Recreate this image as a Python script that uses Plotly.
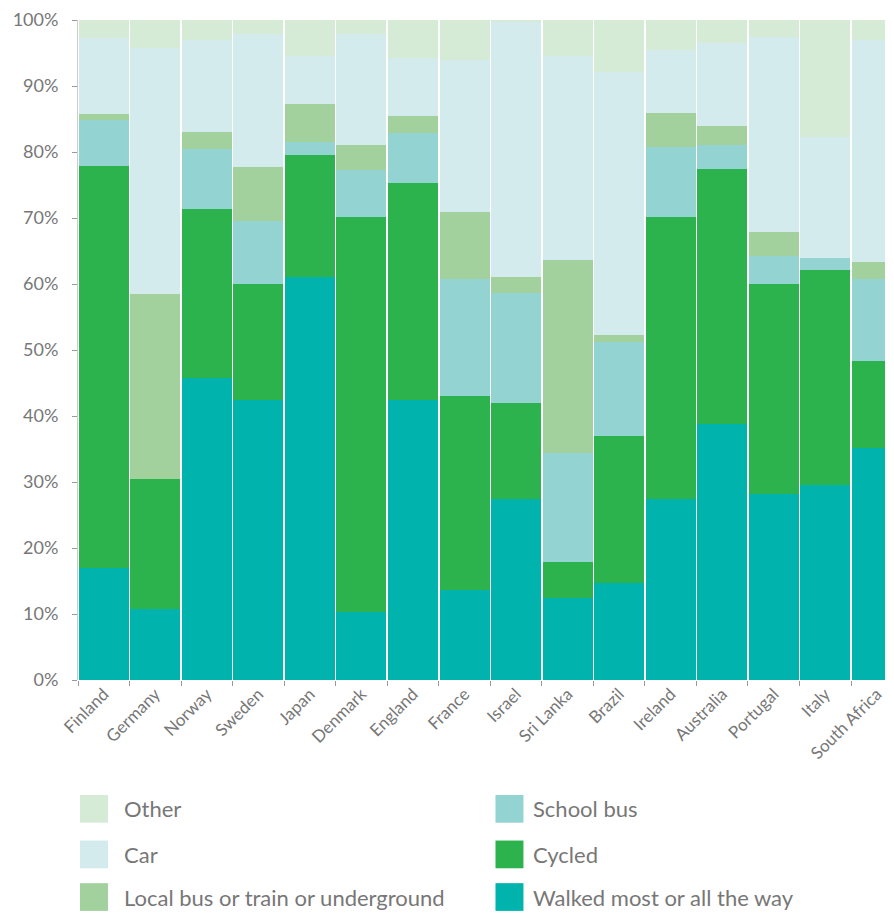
import plotly.graph_objects as go

countries = ["Finland", "Germany", "Norway", "Sweden", "Japan", "Denmark", "England", "France",
             "Israel", "Sri Lanka", "Brazil", "Ireland", "Australia", "Portugal", "Italy", "South Africa"]

walked = [16.9, 10.7, 45.7, 42.4, 61.1, 10.3, 42.4, 13.6, 27.5, 12.5, 14.7, 27.5, 38.8, 28.2, 29.6, 35.1]
cycled = [61.0, 19.7, 25.6, 17.6, 18.5, 59.9, 32.9, 29.5, 14.5, 5.4, 22.2, 42.7, 38.7, 31.8, 32.5, 13.2]
school_bus = [6.9, 0.0, 9.2, 9.5, 1.9, 7.0, 7.6, 17.6, 16.6, 16.5, 14.3, 10.6, 3.6, 4.3, 1.8, 12.4]
local_bus = [1.0, 28.1, 2.5, 8.3, 5.8, 3.9, 2.6, 10.2, 2.4, 29.2, 1.0, 5.1, 2.9, 3.6, 0.0, 2.6]
car = [11.4, 37.3, 13.9, 20.1, 7.3, 16.8, 8.8, 23.1, 38.7, 31.0, 39.9, 9.5, 12.5, 29.6, 18.4, 33.6]
other = [2.8, 4.2, 3.5, 2.1, 5.4, 2.1, 5.7, 6.0, 0.3, 5.4, 7.9, 4.6, 3.5, 2.5, 17.7, 3.1]

# stacking order bottom -> top
series = [
    ("Walked most or all the way", walked, "#00B3AD"),
    ("Cycled", cycled, "#2DB34E"),
    ("School bus", school_bus, "#93D3D2"),
    ("Local bus or train or underground", local_bus, "#A2D19D"),
    ("Car", car, "#D3EBEC"),
    ("Other", other, "#D6EBD5"),
]
# legend layout order (left column, right column)
legend_left = ["Other", "Car", "Local bus or train or underground"]
legend_right = ["School bus", "Cycled", "Walked most or all the way"]

FONT = "Lato, 'Open Sans', sans-serif"
GREY = "#777777"

fig = go.Figure()
for name, vals, col in series:
    fig.add_trace(go.Bar(
        x=countries, y=vals, name=name, marker=dict(color=col, line=dict(width=0)),
        showlegend=False, hovertemplate="%{x}: %{y}%<extra>" + name + "</extra>"))

# page has an 8px body margin; figure sized to fit the window
W, H = 878, 905
OFF = 8
ml, mr, mt, mb = 70, 0, 6, 233
pw, ph = W - ml - mr, H - mt - mb

def px_to_paper_x(px):  # px in page coordinates
    return (px - OFF - ml) / pw

def px_to_paper_y(py):
    return (H - mb - (py - OFF)) / ph

colors = {n: c for n, _, c in series}
shapes = []
annotations = []
row_y = [810, 856, 899]
for col_items, sq_x, tx in [(legend_left, 80, 122), (legend_right, 496, 532)]:
    for i, name in enumerate(col_items):
        cy = row_y[i]
        shapes.append(dict(type="rect", xref="paper", yref="paper",
                           x0=px_to_paper_x(sq_x), x1=px_to_paper_x(sq_x + 28),
                           y0=px_to_paper_y(cy + 14), y1=px_to_paper_y(cy - 14),
                           fillcolor=colors[name], line=dict(width=0), layer="above"))
        annotations.append(dict(text=name, xref="paper", yref="paper",
                                x=px_to_paper_x(tx), y=px_to_paper_y(cy),
                                xanchor="left", yanchor="middle", showarrow=False,
                                font=dict(family=FONT, size=22, color=GREY)))

n_visible = pw / 51.6
fig.update_layout(
    width=W, height=H,
    margin=dict(l=ml, r=mr, t=mt, b=mb),
    barmode="stack", bargap=0.03,
    plot_bgcolor="white", paper_bgcolor="white",
    font=dict(family=FONT, color=GREY),
    shapes=shapes, annotations=annotations,
    showlegend=False,
)
fig.update_xaxes(
    range=[-0.5, -0.5 + n_visible], tickson="boundaries", ticks="outside", ticklen=5,
    tickcolor="#999", tickangle=-45, tickfont=dict(size=17, color=GREY, family=FONT),
    showgrid=False, showline=False, zeroline=False,
)
fig.update_yaxes(
    range=[0, 100], dtick=10, ticksuffix="%", ticks="outside", ticklen=5,
    tickcolor="#999", tickfont=dict(size=18, color=GREY, family=FONT),
    showgrid=False, showline=True, linecolor="#cccccc", linewidth=1,
    zeroline=False, ticklabelstandoff=10, ticklabeloverflow="allow",
)

fig.write_html("out.html")
